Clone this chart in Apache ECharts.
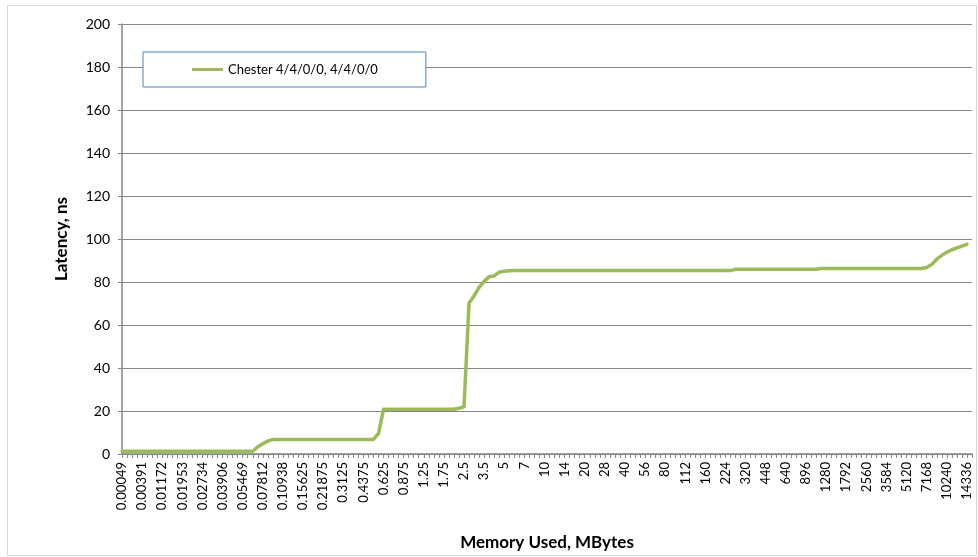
<!DOCTYPE html>
<html>
<head>
<meta charset="utf-8">
<style>
  html, body { margin: 0; padding: 0; background: #ffffff; }
  #chart { width: 978px; height: 557px; }
</style>
<script src="https://cdn.jsdelivr.net/npm/echarts@6/dist/echarts.min.js"></script>
</head>
<body>
<div id="chart"></div>
<script>
// Block sizes walked by the latency test, in MBytes
const memorySizes = [
  "0.00049","0.00098","0.00195","0.00293","0.00391","0.00586","0.00781","0.00977","0.01172","0.01367",
  "0.01562","0.01758","0.01953","0.02148","0.02344","0.02539","0.02734","0.0293","0.03125","0.03516",
  "0.03906","0.04297","0.04688","0.05078","0.05469","0.05859","0.0625","0.07031","0.07812","0.08594",
  "0.09375","0.10156","0.10938","0.11719","0.125","0.14062","0.15625","0.17188","0.1875","0.20312",
  "0.21875","0.23438","0.25","0.28125","0.3125","0.34375","0.375","0.40625","0.4375","0.46875",
  "0.5","0.5625","0.625","0.6875","0.75","0.8125","0.875","0.9375","1","1.125",
  "1.25","1.375","1.5","1.625","1.75","1.875","2","2.25","2.5","2.75",
  "3","3.25","3.5","3.75","4","4.5","5","5.5","6","6.5",
  "7","7.5","8","9","10","11","12","13","14","15",
  "16","18","20","22","24","26","28","30","32","36",
  "40","44","48","52","56","60","64","72","80","88",
  "96","104","112","120","128","144","160","176","192","208",
  "224","240","256","288","320","352","384","416","448","480",
  "512","576","640","704","768","832","896","960","1024","1152",
  "1280","1408","1536","1664","1792","1920","2048","2304","2560","2816",
  "3072","3328","3584","3840","4096","4608","5120","5632","6144","6656",
  "7168","7680","8192","9216","10240","11264","12288","13312","14336","15360"
];

// Measured load latency (ns) for each block size
const chesterLatency = [
  1.3, 1.3, 1.3, 1.3, 1.3, 1.3, 1.3, 1.3, 1.3, 1.3,
  1.3, 1.3, 1.3, 1.3, 1.3, 1.3, 1.3, 1.3, 1.3, 1.3,
  1.3, 1.3, 1.3, 1.3, 1.3, 1.3, 1.3, 3.4, 4.8, 6.0,
  6.8, 6.8, 6.8, 6.8, 6.8, 6.8, 6.8, 6.8, 6.8, 6.8,
  6.8, 6.8, 6.8, 6.8, 6.8, 6.8, 6.8, 6.8, 6.8, 6.8,
  6.8, 9.6, 20.8, 20.8, 20.8, 20.8, 20.8, 20.8, 20.8, 20.8,
  20.8, 20.8, 20.8, 20.8, 20.8, 20.8, 20.8, 21.3, 22.0, 70.2,
  73.5, 77.5, 80.3, 82.5, 82.8, 84.6, 85.0, 85.2, 85.3, 85.3,
  85.3, 85.3, 85.3, 85.3, 85.3, 85.3, 85.3, 85.3, 85.3, 85.3,
  85.3, 85.3, 85.3, 85.3, 85.3, 85.3, 85.3, 85.3, 85.3, 85.3,
  85.3, 85.3, 85.3, 85.3, 85.3, 85.3, 85.3, 85.3, 85.3, 85.3,
  85.3, 85.3, 85.3, 85.3, 85.3, 85.3, 85.3, 85.3, 85.3, 85.3,
  85.3, 85.3, 85.9, 85.9, 85.9, 85.9, 85.9, 85.9, 85.9, 85.9,
  85.9, 85.9, 85.9, 85.9, 85.9, 85.9, 85.9, 85.9, 85.9, 86.3,
  86.3, 86.3, 86.3, 86.3, 86.3, 86.3, 86.3, 86.3, 86.3, 86.3,
  86.3, 86.3, 86.3, 86.3, 86.3, 86.3, 86.3, 86.3, 86.3, 86.3,
  86.7, 88.2, 90.6, 92.4, 93.9, 95.0, 95.9, 96.7, 97.5, null
];

const seriesName = "Chester 4/4/0/0, 4/4/0/0";
const yTicks = { min: 0, max: 200, interval: 20 };

const FONT = "Lato, 'Open Sans', sans-serif";
const AXIS_GREY = "#868686";
const LINE_GREEN = "#9bbb59";

const chart = echarts.init(document.getElementById("chart"), null, { renderer: "canvas" });

chart.setOption({
  animation: false,
  backgroundColor: "#ffffff",
  textStyle: { fontFamily: FONT, color: "#000000" },
  graphic: [
    {
      // thin outer frame of the chart area
      type: "rect",
      silent: true,
      shape: { x: 7.5, y: 5.5, width: 969, height: 550 },
      style: { fill: "none", stroke: "#d9d9d9", lineWidth: 1 }
    }
  ],
  grid: { left: 122, right: 6, top: 24, bottom: 103, containLabel: false },
  legend: {
    data: [{ name: seriesName, icon: "rect" }],
    left: 143,
    top: 52,
    orient: "horizontal",
    backgroundColor: "#ffffff",
    borderColor: "#4f81bd",
    borderWidth: 1,
    borderRadius: 0,
    padding: [10, 48, 10, 49],
    itemWidth: 31,
    itemHeight: 3,
    itemGap: 5,
    itemStyle: { color: LINE_GREEN, borderWidth: 0 },
    textStyle: { fontFamily: FONT, fontSize: 13, color: "#000000", lineHeight: 15 }
  },
  xAxis: {
    type: "category",
    data: memorySizes,
    boundaryGap: false,
    name: "Memory Used, MBytes",
    nameLocation: "middle",
    nameGap: 80,
    nameTextStyle: { fontFamily: FONT, fontSize: 17, fontWeight: "bold", color: "#000000" },
    axisLine: { lineStyle: { color: AXIS_GREY, width: 1.5 } },
    axisTick: { show: true, interval: 0, length: 4, lineStyle: { color: AXIS_GREY } },
    axisLabel: {
      interval: 3,
      rotate: 90,
      margin: 8,
      fontFamily: FONT,
      fontSize: 13,
      color: "#000000",
      hideOverlap: false
    },
    splitLine: { show: false }
  },
  yAxis: {
    type: "value",
    min: yTicks.min,
    max: yTicks.max,
    interval: yTicks.interval,
    name: "Latency, ns",
    nameLocation: "middle",
    nameGap: 52,
    nameTextStyle: { fontFamily: FONT, fontSize: 17, fontWeight: "bold", color: "#000000" },
    axisLine: { show: true, lineStyle: { color: AXIS_GREY, width: 1.5 } },
    axisTick: { show: true, length: 4, lineStyle: { color: AXIS_GREY } },
    axisLabel: { margin: 12, fontFamily: FONT, fontSize: 14, color: "#000000" },
    splitLine: { show: true, lineStyle: { color: AXIS_GREY, width: 1 } }
  },
  series: [
    {
      name: seriesName,
      type: "line",
      data: chesterLatency,
      symbol: "none",
      showSymbol: false,
      connectNulls: false,
      lineStyle: { color: LINE_GREEN, width: 3.5, cap: "round", join: "round" },
      itemStyle: { color: LINE_GREEN }
    }
  ]
});
</script>
</body>
</html>
